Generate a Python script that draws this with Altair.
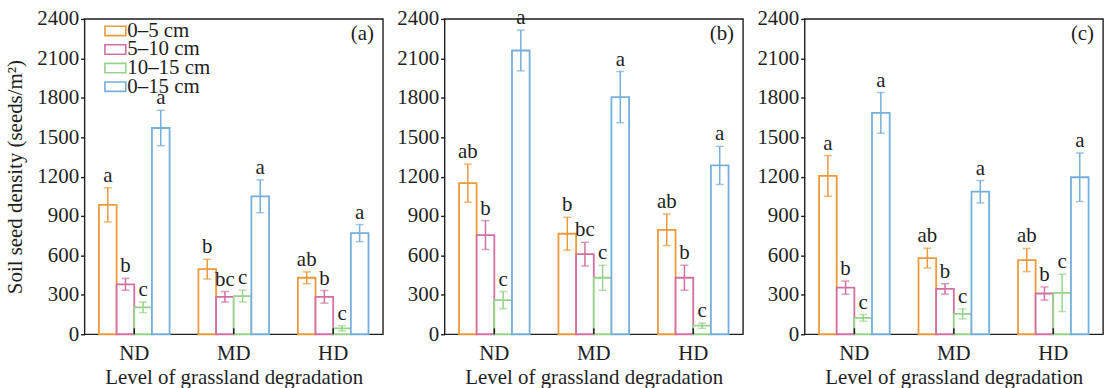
import altair as alt
import pandas as pd

levels = ["ND", "MD", "HD"]
depths = ["0–5 cm", "5–10 cm", "10–15 cm", "0–15 cm"]
palette = ["#EC9A3C", "#D270A2", "#98D38C", "#76AEDC"]

# Seed density means, standard errors and significance letters
# rows: ND, MD, HD ; columns: 0–5, 5–10, 10–15, 0–15 cm
a_mean = [[985, 380, 205, 1570], [495, 285, 290, 1050], [430, 285, 45, 770]]
a_err = [[130, 45, 40, 135], [75, 40, 45, 125], [45, 48, 20, 65]]
a_sig = [["a", "b", "c", "a"], ["b", "bc", "c", "a"], ["ab", "b", "c", "a"]]

b_mean = [[1150, 755, 260, 2160], [765, 610, 430, 1805], [795, 430, 65, 1285]]
b_err = [[145, 110, 65, 155], [125, 90, 95, 195], [120, 95, 20, 145]]
b_sig = [["ab", "b", "c", "a"], ["b", "bc", "c", "a"], ["ab", "b", "c", "a"]]

c_mean = [[1205, 355, 125, 1685], [580, 345, 155, 1085], [565, 310, 315, 1195]]
c_err = [[155, 50, 25, 155], [75, 40, 38, 85], [88, 50, 142, 185]]
c_sig = [["a", "b", "c", "a"], ["ab", "b", "c", "a"], ["ab", "b", "c", "a"]]

y_ticks = [0, 300, 600, 900, 1200, 1500, 1800, 2100, 2400]

FONT = "Liberation Serif"
FS = 21
W, H = 300, 317
INK = "#1e1e1e"


def frame(mean, err, sig):
    rows = []
    for i, lv in enumerate(levels):
        for j, dp in enumerate(depths):
            m, e = mean[i][j], err[i][j]
            rows.append({"level": lv, "depth": dp, "mean": m,
                         "lo": m - e, "hi": m + e, "sig": sig[i][j]})
    return pd.DataFrame(rows)


def y_axis(first):
    return alt.Axis(values=y_ticks, format="d", tickSize=4, labelPadding=2,
                    grid=False, domain=False, labelOverlap=False,
                    labelFont=FONT, labelFontSize=FS, labelColor=INK,
                    title="Soil seed density (seeds/m²)" if first else None,
                    titleFont=FONT, titleFontSize=FS, titleFontWeight="normal",
                    titleColor=INK, titlePadding=11)


def panel(tag, mean, err, sig, first):
    df = frame(mean, err, sig)
    xenc = alt.X("level:N", sort=levels,
                 scale=alt.Scale(paddingInner=0.29, paddingOuter=0.145),
                 axis=alt.Axis(title="Level of grassland degradation",
                               labelAngle=0, ticks=False, labelPadding=8,
                               titlePadding=4, domain=False,
                               labelFont=FONT, labelFontSize=FS, labelColor=INK,
                               titleFont=FONT, titleFontSize=FS,
                               titleFontWeight="normal", titleColor=INK))
    xoff = alt.XOffset("depth:N", sort=depths,
                       scale=alt.Scale(paddingInner=0, paddingOuter=0))
    yscale = alt.Scale(domain=[0, 2400], nice=False)
    cscale = alt.Scale(domain=depths, range=palette)
    col = alt.Color("depth:N", scale=cscale, legend=None)

    def yq(field):
        return alt.Y(field, type="quantitative", scale=yscale, axis=y_axis(first))

    base = alt.Chart(df).encode(x=xenc, xOffset=xoff)
    bars = base.mark_bar(fill="white", strokeWidth=1.8).encode(
        y=yq("mean"), stroke=alt.Stroke("depth:N", scale=cscale, legend=None))
    whisk = base.mark_rule(strokeWidth=1.5).encode(
        y=yq("lo"), y2="hi:Q", color=col)
    cap_lo = base.mark_tick(size=8, thickness=1.5).encode(y=yq("lo"), color=col)
    cap_hi = base.mark_tick(size=8, thickness=1.5).encode(y=yq("hi"), color=col)
    letters = base.mark_text(font=FONT, fontSize=FS, color=INK,
                             baseline="alphabetic", dy=-6).encode(
        y=yq("hi"), text="sig:N")
    # short inward ticks at each group centre
    ticks = alt.Chart(pd.DataFrame({"level": levels})).mark_rule(
        color=INK, strokeWidth=1.5).encode(
        x=alt.X("level:N", sort=levels), y=alt.value(H), y2=alt.value(H - 6))
    label = alt.Chart(pd.DataFrame({"tag": [tag]})).mark_text(
        font=FONT, fontSize=FS, color=INK, align="right",
        baseline="middle").encode(
        x=alt.value(W - 9), y=alt.value(15), text="tag:N")
    layers = [bars, whisk, cap_lo, cap_hi, letters, ticks, label]

    if first:
        # key for the four depth layers, stacked in the upper-left corner
        key = pd.DataFrame({"depth": depths, "idx": list(range(len(depths)))})
        kbase = alt.Chart(key).transform_calculate(
            ky="12 + datum.idx * 18.7").encode(
            y=alt.Y("ky:Q", scale=None, axis=None))
        swatch = kbase.mark_point(
            shape="M-1,-0.45L1,-0.45L1,0.45L-1,0.45Z", size=441, filled=False,
            strokeWidth=1.6, opacity=1).encode(x=alt.value(31), color=col)
        ktext = kbase.mark_text(font=FONT, fontSize=FS, color=INK,
                                align="left", baseline="middle").encode(
            x=alt.value(43), text="depth:N")
        layers += [swatch, ktext]

    return alt.layer(*layers).properties(width=W, height=H)


chart = alt.hconcat(
    panel("(a)", a_mean, a_err, a_sig, True),
    panel("(b)", b_mean, b_err, b_sig, False),
    panel("(c)", c_mean, c_err, c_sig, False),
    spacing=12,
).resolve_scale(color="independent", stroke="independent").properties(
    padding={"left": 4, "top": 5, "right": 2, "bottom": 0}
).configure_view(stroke=INK, strokeWidth=1.4).configure_axis(
    tickColor=INK, tickWidth=1.4, domainColor=INK,
)

chart.save("out.html", embed_options={"renderer": "svg", "actions": False})
